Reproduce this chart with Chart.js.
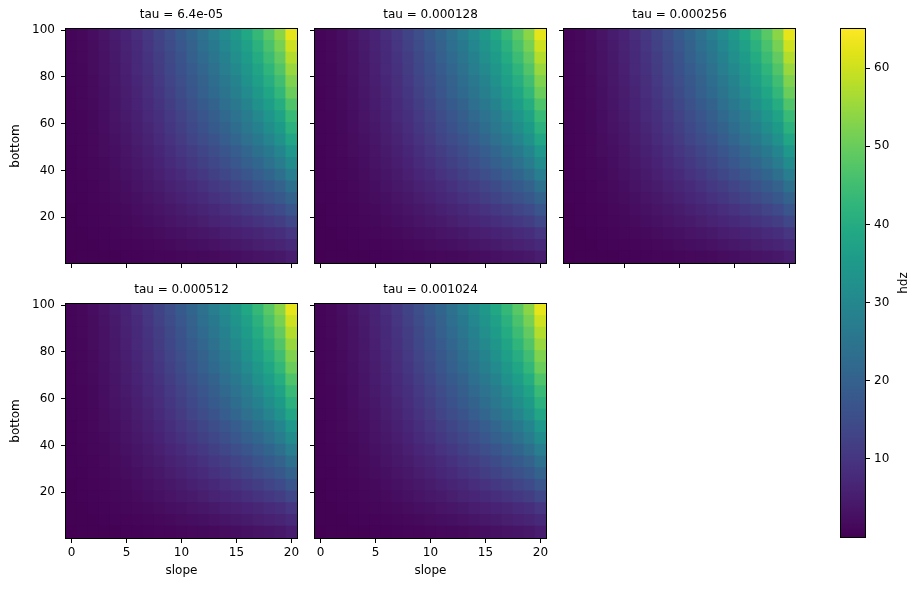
<!DOCTYPE html>
<html>
<head>
<meta charset="utf-8">
<script src="https://cdn.jsdelivr.net/npm/chart.js@4.4.1/dist/chart.umd.min.js"></script>
<style>
body{margin:0;background:#fff;width:922px;height:590px;position:relative;overflow:hidden}
canvas{position:absolute}
</style>
</head>
<body>
<script>
// facet values
const taus = ["6.4e-05", "0.000128", "0.000256", "0.000512", "0.001024"];
// x categories
const slopes = [0,1,2,3,4,5,6,7,8,9,10,11,12,13,14,15,16,17,18,19,20];
// y bins (bottom), edges of each band
const bottomEdges = [0.5,5.5,10.5,15.5,20.5,25.5,30.5,35.5,40.5,45.5,50.5,55.5,60.5,65.5,70.5,75.5,80.5,85.5,90.5,95.5,100.5];
const bottomTicks = [20,40,60,80,100];
const hdzTicks = [10,20,30,40,50,60];
const hdzMin = 0, hdzMax = 65;

// hdz, one row per bottom band (lowest band first), one value per slope
const hdz = [
[0.0,0.1,0.1,0.2,0.2,0.3,0.4,0.5,0.7,0.9,1.0,1.2,1.4,1.7,2.0,2.4,2.8,3.2,3.7,4.3,5.0],
[0.1,0.1,0.2,0.3,0.5,0.6,0.8,1.0,1.3,1.6,1.9,2.3,2.7,3.1,3.6,4.2,4.7,5.3,5.9,6.6,7.6],
[0.1,0.2,0.4,0.5,0.8,1.0,1.3,1.7,2.0,2.5,2.9,3.4,3.9,4.4,5.0,5.6,6.2,6.9,7.7,8.6,10.0],
[0.2,0.3,0.5,0.7,1.1,1.4,1.8,2.3,2.8,3.4,4.0,4.6,5.3,6.1,6.8,7.6,8.5,9.5,10.6,11.8,13.8],
[0.2,0.4,0.6,0.9,1.3,1.7,2.2,2.8,3.5,4.2,4.9,5.7,6.5,7.4,8.4,9.4,10.5,11.7,13.0,14.4,16.9],
[0.3,0.4,0.7,1.1,1.6,2.1,2.7,3.4,4.2,5.1,6.0,7.0,8.0,9.1,10.2,11.5,12.8,14.3,15.8,17.7,20.6],
[0.3,0.5,0.8,1.3,1.8,2.4,3.2,4.0,4.9,5.9,6.9,8.0,9.2,10.5,11.8,13.2,14.7,16.4,18.2,20.3,23.8],
[0.4,0.6,1.0,1.5,2.1,2.8,3.7,4.6,5.6,6.8,8.0,9.3,10.6,12.1,13.6,15.3,17.1,19.0,21.1,23.5,27.5],
[0.4,0.7,1.1,1.7,2.4,3.2,4.2,5.2,6.4,7.7,9.1,10.6,12.1,13.8,15.5,17.4,19.4,21.6,24.0,26.8,31.3],
[0.4,0.7,1.2,1.9,2.6,3.5,4.6,5.7,7.0,8.5,10.0,11.6,13.3,15.1,17.1,19.1,21.3,23.8,26.4,29.4,34.4],
[0.5,0.8,1.3,2.1,2.9,3.9,5.1,6.3,7.8,9.4,11.1,12.9,14.8,16.8,18.9,21.2,23.7,26.4,29.3,32.6,38.1],
[0.5,0.9,1.5,2.2,3.2,4.2,5.5,6.9,8.4,10.2,12.0,13.9,16.0,18.2,20.5,22.9,25.6,28.5,31.7,35.3,41.3],
[0.6,0.9,1.5,2.4,3.4,4.5,5.8,7.3,9.0,10.8,12.7,14.8,16.9,19.3,21.7,24.3,27.2,30.2,33.6,37.5,43.8],
[0.6,1.0,1.7,2.6,3.6,4.8,6.2,7.8,9.6,11.6,13.7,15.8,18.2,20.6,23.3,26.0,29.1,32.4,36.0,40.1,46.9],
[0.6,1.0,1.8,2.7,3.8,5.1,6.6,8.3,10.2,12.3,14.6,16.9,19.4,22.0,24.8,27.8,31.0,34.6,38.4,42.8,50.0],
[0.7,1.1,1.8,2.9,4.0,5.4,7.0,8.7,10.8,12.9,15.3,17.7,20.3,23.1,26.0,29.1,32.6,36.3,40.3,44.9,52.5],
[0.7,1.1,1.9,3.0,4.2,5.6,7.3,9.2,11.3,13.6,16.0,18.6,21.3,24.2,27.3,30.5,34.1,38.0,42.2,47.1,55.0],
[0.7,1.2,2.0,3.1,4.4,5.9,7.6,9.6,11.8,14.2,16.7,19.4,22.3,25.3,28.5,31.9,35.7,39.7,44.2,49.2,57.5],
[0.8,1.2,2.1,3.3,4.6,6.1,8.0,10.0,12.3,14.8,17.5,20.3,23.2,26.4,29.8,33.3,37.2,41.5,46.1,51.4,60.0],
[0.8,1.3,2.2,3.4,4.8,6.4,8.3,10.4,12.8,15.4,18.2,21.1,24.2,27.5,31.0,34.7,38.8,43.2,48.0,53.5,62.5]
];

// viridis, 21 stops
const viridis = ["#440154","#471365","#482475","#463480","#414487","#3b528b","#355f8d","#2f6c8e","#2a788e","#25848e","#21918c","#1e9c89","#22a884","#2fb47c","#44bf70","#5ec962","#7ad151","#9bd93c","#bddf26","#dfe318","#fde725"];

function hex2rgb(h){
  return [parseInt(h.slice(1,3),16),parseInt(h.slice(3,5),16),parseInt(h.slice(5,7),16)];
}
const viridisRgb = viridis.map(hex2rgb);

function colorFor(v){
  let t=(v-hdzMin)/(hdzMax-hdzMin);
  t=Math.max(0,Math.min(1,t));
  let f=t*(viridisRgb.length-1);
  let i=Math.min(Math.floor(f),viridisRgb.length-2);
  let k=f-i;
  let a=viridisRgb[i], b=viridisRgb[i+1];
  let c=a.map((x,j)=>Math.round(x+(b[j]-x)*k));
  return "rgb("+c.join(",")+")";
}

Chart.defaults.font.family="'DejaVu Sans', sans-serif";
Chart.defaults.font.size=12;
Chart.defaults.color="#000";

const framePlugin={
  id:"frame",
  afterDraw(chart){
    const {ctx,chartArea:a}=chart;
    ctx.save();
    ctx.strokeStyle="#000";
    ctx.lineWidth=1;
    ctx.strokeRect(Math.round(a.left)-0.5,Math.round(a.top)-0.5,Math.round(a.right-a.left)+1,Math.round(a.bottom-a.top)+1);
    ctx.restore();
  }
};

// plot area corners of the facets
const panelPos=[[66,29],[315,29],[564,29],[66,304],[315,304]];

function makeCanvas(left,top,w,h){
  let c=document.createElement("canvas");
  c.width=w; c.height=h;
  c.style.left=left+"px"; c.style.top=top+"px";
  document.body.appendChild(c);
  return c;
}

taus.forEach((tau,i)=>{

let col=i%3;
let row=Math.floor(i/3);
let [left,top]=panelPos[i];
let canvas=makeCanvas(left-66,top-29,309,313);

let datasets=hdz.map((vals,r)=>({
  data:vals.map(()=>[bottomEdges[r],bottomEdges[r+1]]),
  backgroundColor:vals.map(colorFor),
  borderWidth:0,
  inflateAmount:0.6,
  barPercentage:1,
  categoryPercentage:1,
  grouped:false
}));

new Chart(canvas,{
  type:"bar",
  data:{labels:slopes.map(String),datasets},
  options:{
    responsive:false,
    animation:false,
    devicePixelRatio:1,
    events:[],
    layout:{padding:{left:0,right:12,top:0,bottom:0}},
    plugins:{
      legend:{display:false},
      tooltip:{enabled:false},
      title:{display:true,text:"tau = "+tau,fullSize:false,color:"#000",
        font:{size:12,weight:"normal"},padding:{top:8,bottom:6.6}}
    },
    scales:{
      x:{
        type:"category",
        offset:true,
        border:{display:false},
        grid:{drawOnChartArea:false,offset:false,tickLength:5,tickColor:"#000",tickWidth:1},
        ticks:{display:row===1,autoSkip:false,maxRotation:0,padding:3,color:"#000"},
        title:{display:row===1,text:"slope",color:"#000",padding:{top:0,bottom:10}},
        afterBuildTicks:s=>{s.ticks=s.ticks.filter(t=>slopes[t.value]%5===0);},
        afterFit:s=>{s.height=50;}
      },
      y:{
        type:"linear",
        min:bottomEdges[0],
        max:bottomEdges[bottomEdges.length-1],
        border:{display:false},
        grid:{drawOnChartArea:false,tickLength:5,tickColor:"#000",tickWidth:1},
        ticks:{display:col===0,padding:6,color:"#000"},
        title:{display:col===0,text:"bottom",color:"#000",padding:{top:9,bottom:0}},
        afterBuildTicks:s=>{s.ticks=bottomTicks.map(v=>({value:v}));},
        afterFit:s=>{s.width=66;}
      }
    }
  },
  plugins:[framePlugin]
});

});

// colorbar
const gradientPlugin={
  id:"cbar",
  beforeDatasetsDraw(chart){
    const {ctx,chartArea:a,scales:{y}}=chart;
    let g=ctx.createLinearGradient(0,y.getPixelForValue(hdzMin),0,y.getPixelForValue(hdzMax));
    viridis.forEach((c,i)=>g.addColorStop(i/(viridis.length-1),c));
    ctx.save();
    ctx.fillStyle=g;
    ctx.fillRect(a.left,a.top,a.right-a.left,a.bottom-a.top);
    ctx.restore();
  },
  afterDraw(chart){
    const {ctx,chartArea:a}=chart;
    ctx.save();
    ctx.translate(68,(a.top+a.bottom)/2);
    ctx.rotate(-Math.PI/2);
    ctx.fillStyle="#000";
    ctx.font="12px 'DejaVu Sans', sans-serif";
    ctx.textAlign="center";
    ctx.textBaseline="middle";
    ctx.fillText("hdz",0,0);
    ctx.restore();
  }
};

let cb=makeCanvas(836,0,86,590);
new Chart(cb,{
  type:"bar",
  data:{labels:[""],datasets:[{data:[]}]},
  options:{
    responsive:false,
    animation:false,
    devicePixelRatio:1,
    events:[],
    layout:{padding:{left:5,right:0,top:29,bottom:53}},
    plugins:{legend:{display:false},tooltip:{enabled:false}},
    scales:{
      x:{display:false},
      y:{
        position:"right",
        min:hdzMin,
        max:hdzMax,
        border:{display:false},
        grid:{drawOnChartArea:false,tickLength:5,tickColor:"#000",tickWidth:1},
        ticks:{padding:4,color:"#000"},
        afterBuildTicks:s=>{s.ticks=hdzTicks.map(v=>({value:v}));},
        afterFit:s=>{s.width=57;}
      }
    }
  },
  plugins:[gradientPlugin,framePlugin]
});
</script>
</body>
</html>
